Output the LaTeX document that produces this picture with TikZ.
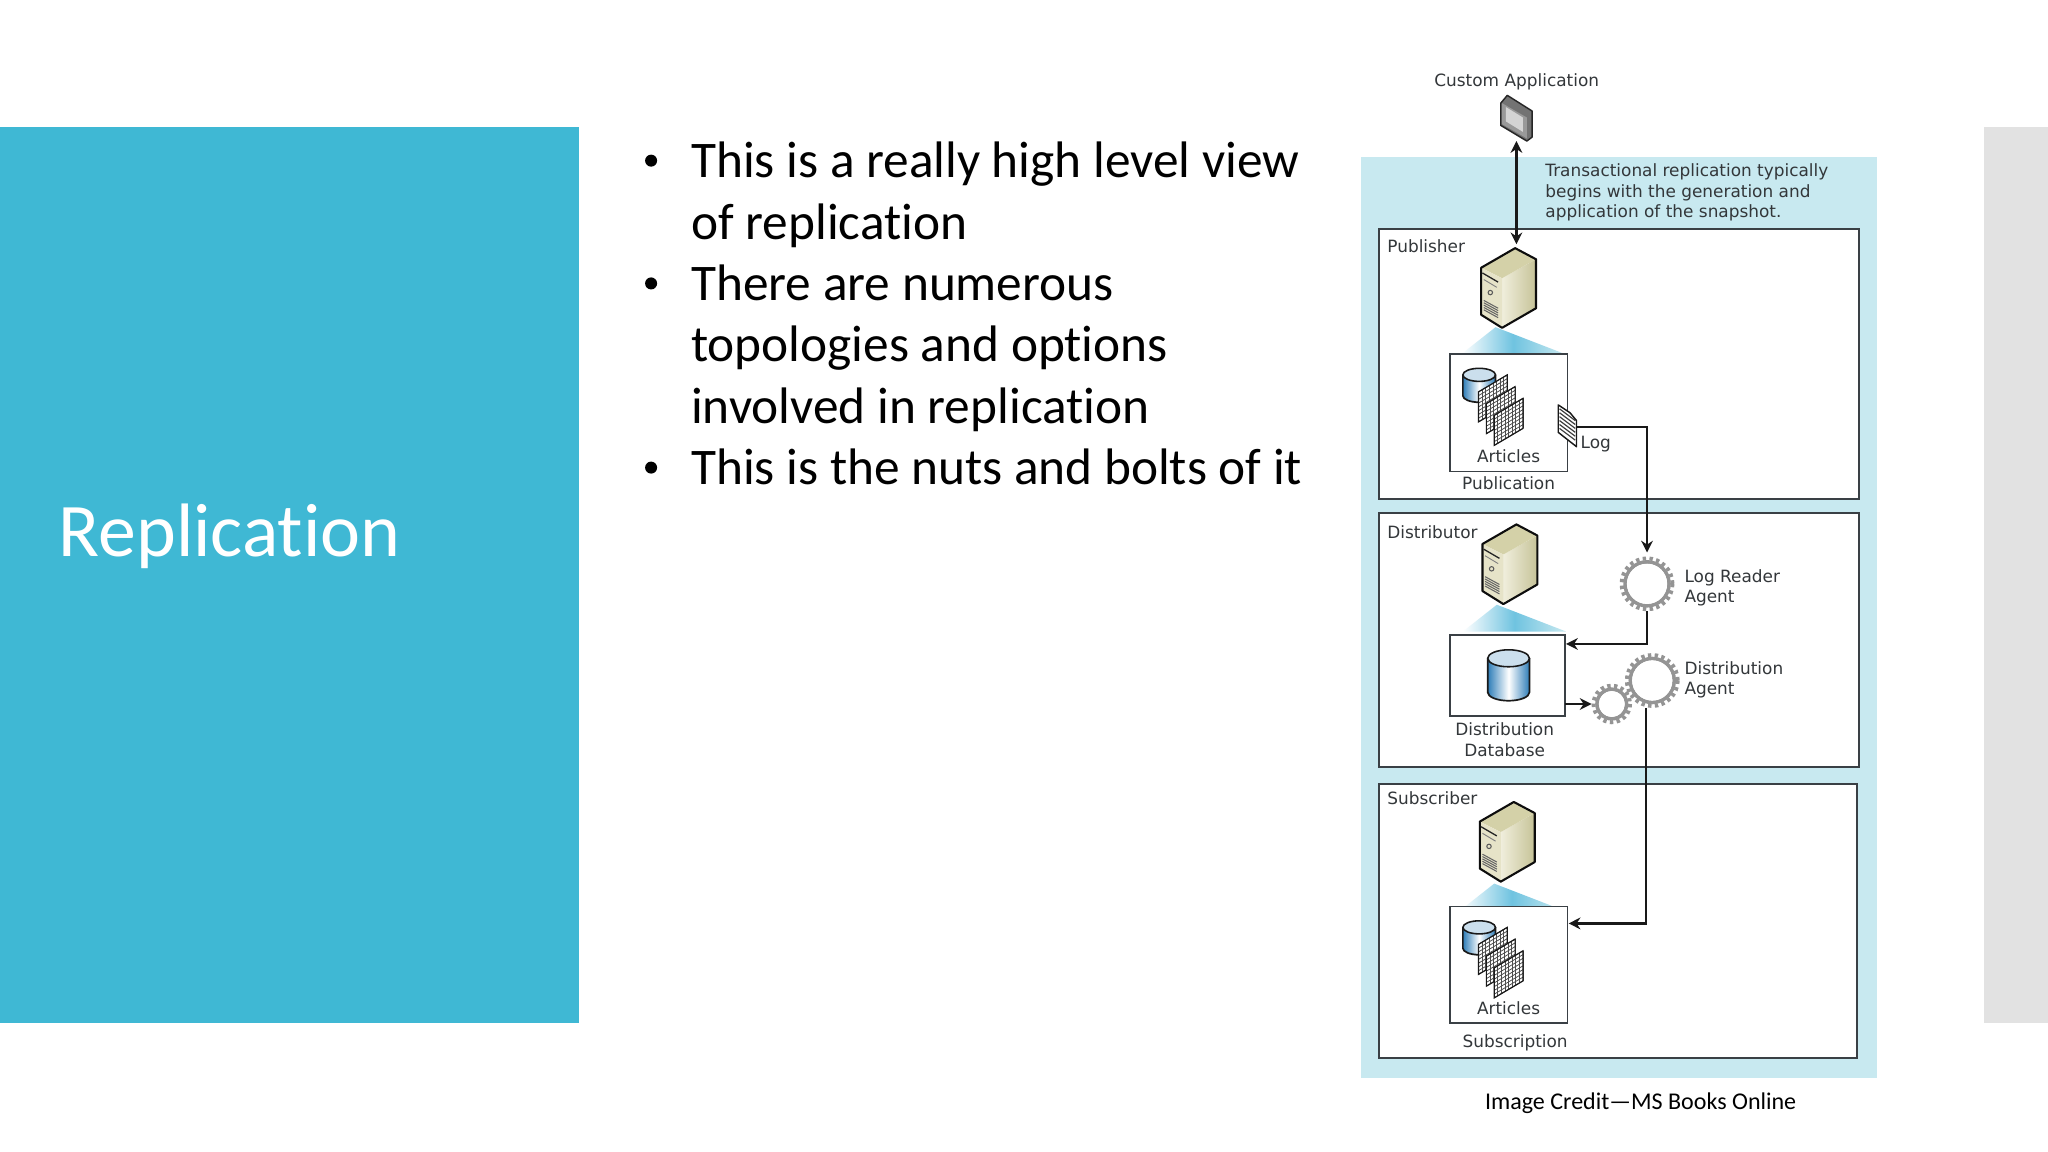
\documentclass[tikz,border=0pt]{standalone}
\usepackage{fontspec}
\setmainfont{Carlito}[Ligatures=NoCommon]
\newfontfamily\diafont{DejaVu Sans}
\usetikzlibrary{arrows.meta,calc}
\definecolor{panel}{HTML}{3FB8D4}
\definecolor{sidegrey}{HTML}{E2E2E2}
\definecolor{paleblue}{HTML}{C8E9F0}
\definecolor{frameline}{HTML}{3A4045}
\definecolor{txt}{HTML}{33373A}
\definecolor{cylblue}{HTML}{2E7DB8}
\definecolor{glowblue}{HTML}{6FC3E0}
\definecolor{srvlight}{HTML}{F0EEDC}
\definecolor{srvdark}{HTML}{C6C398}
\definecolor{srvtop}{HTML}{D4D1A8}
\definecolor{srvfront}{HTML}{E6E3C8}
\tikzset{
  frame/.style={draw=frameline,line width=1.5pt,fill=white,inner sep=0pt,outer sep=0pt},
  innerbox/.style={draw=frameline,line width=1.3pt,fill=white,inner sep=0pt,outer sep=0pt},
  dia/.style={font=\diafont\fontsize{12.95}{15.6}\selectfont,text=txt,inner sep=0pt,align=left},
  dianum/.style={font=\diafont\fontsize{12.95}{15.6}\selectfont,text=txt,inner sep=0pt,align=center},
  bul/.style={font=\fontsize{39.3}{47}\selectfont,text=black,inner sep=0pt,anchor=base west},
  conn/.style={draw=black!90,line width=1.7pt,-{Stealth[length=9pt,width=9pt]}},
  ghost/.style={inner sep=0pt,outer sep=0pt},
}
% server icon: #1 = x of top vertex, #2 = y of top vertex
\newcommand{\srvicon}[2]{%
  \begin{scope}[shift={(#1,#2)}]
    \shade[left color=srvlight,right color=srvdark] (-10,23) -- (16,8.5) -- (16,46) -- (-10,61) -- cycle;
    \fill[srvtop] (0,0) -- (16,8.5) -- (-10,23) -- (-26,15) -- cycle;
    \fill[srvfront] (-26,15) -- (-10,23) -- (-10,61) -- (-26,51) -- cycle;
    \draw[black!85,line width=1pt] (-25,19) -- (-13,26);
    \draw[black!50,line width=.7pt] (-24,24) -- (-14,30);
    \draw[black!65,line width=.8pt] (-19,34) circle (1.7);
    \foreach \k in {0,...,4}{\draw[black!60,line width=.8pt] (-24,{40+1.8*\k}) -- (-13,{46+1.8*\k});}
    \draw[black!95,line width=1.6pt,line join=round] (0,0) -- (16,8.5) -- (16,46) -- (-10,61) -- (-26,51) -- (-26,15) -- cycle;
  \end{scope}}
% glow below a server
\newcommand{\srvglow}[2]{%
  \shade[left color=white,right color=paleblue,middle color=glowblue] (#1,#2) -- ({#1+53},{#2+20.5}) -- ({#1-26},{#2+20.5}) -- cycle;}
% gear: centre, outer radius
\newcommand{\geardraw}[3]{%
  \draw[black!42,line width=3pt,dash pattern=on 2.6pt off 2.6pt] (#1,#2) circle ({#3-1.5});
  \draw[black!42,line width=2.8pt] (#1,#2) circle ({#3-4.2});
  \fill[white] (#1,#2) circle ({#3-5.6});}
% cylinder: x left, x right, y top, y bottom, ell ry
\newcommand{\cyl}[5]{%
  \shade[left color=cylblue,right color=cylblue,middle color=white] (#1,#3) -- (#1,#4) arc[x radius={(#2-#1)/2},y radius=#5,start angle=180,end angle=0] -- (#2,#3) -- cycle;
  \fill[cylblue!25!white] ({(#1+#2)/2},#3) ellipse[x radius={(#2-#1)/2},y radius=#5];
  \draw[black!90,line width=1.3pt] (#1,#3) -- (#1,#4) arc[x radius={(#2-#1)/2},y radius=#5,start angle=180,end angle=0] -- (#2,#3);
  \draw[black!90,line width=1.2pt] ({(#1+#2)/2},#3) ellipse[x radius={(#2-#1)/2},y radius=#5];}
% one grid sheet: top-left corner
\newcommand{\sheet}[2]{%
  \begin{scope}[shift={(#1,#2)}]
    \fill[white] (0,0) -- (22,-13) -- (22,10) -- (0,23) -- cycle;
    \foreach \k in {0,...,8}{
      \draw[black!70,line width=.6pt] ({\k*2.75},{-\k*1.625}) -- ({\k*2.75},{23-\k*1.625});
    }
    \foreach \k in {0,...,8}{
      \draw[black!70,line width=.6pt] (0,{\k*2.875}) -- (22,{-13+\k*2.875});
    }
    \draw[black!90,line width=.9pt] (0,0) -- (22,-13) -- (22,10) -- (0,23) -- cycle;
  \end{scope}}
\newcommand{\articlesicon}[2]{%
  \begin{scope}[shift={(#1,#2)}]
    \cyl{0}{25}{11}{27}{5}
    \sheet{12}{24}
    \sheet{18}{33}
    \sheet{24}{42}
  \end{scope}}
\begin{document}
\begin{tikzpicture}[x=1pt,y=-1pt]
\useasboundingbox (0,0) rectangle (1568,882);
\fill[white] (0,0) rectangle (1568,882);
\fill[panel] (0,97) rectangle (443,783);
\fill[sidegrey] (1519,97) rectangle (1568,783);
\node[ghost,anchor=base west,text=white,font=\fontsize{58}{70}\selectfont] (title) at (45,426) {Replication};

\foreach \yy in {123,217,358}{\fill[black] (498.5,\yy) circle (4.6);}
\node[bul] (l1) at (529,136) {This is a really high level view};
\node[bul] (l2) at (529,183) {of replication};
\node[bul] (l3) at (529,230) {There are numerous};
\node[bul] (l4) at (529,277) {topologies and options};
\node[bul] (l5) at (529,324) {involved in replication};
\node[bul] (l6) at (529,371) {This is the nuts and bolts of it};

\fill[paleblue] (1042,120) rectangle (1437,825);
\node[frame,anchor=north west,minimum width=367pt,minimum height=207pt] (pubframe) at (1056,175) {};
\node[frame,anchor=north west,minimum width=367pt,minimum height=194pt] (disframe) at (1056,393) {};
\node[frame,anchor=north west,minimum width=366pt,minimum height=210pt] (subframe) at (1056,600) {};

\node[dia,anchor=base west] (custom) at (1098,66) {Custom Application};
\node[dia,anchor=base west,align=left] (note) at (1183,166.7) {Transactional replication typically\\begins with the generation and\\application of the snapshot.};
\node[dia,anchor=base west] (publabel) at (1062,193) {Publisher};
\node[dia,anchor=base west] (dislabel) at (1062,412.5) {Distributor};
\node[dia,anchor=base west] (sublabel) at (1062,616) {Subscriber};

% custom application icon
\fill[black!55] (1149,79) -- (1154,73) -- (1173,85) -- (1173,105) -- (1169,108) -- (1149,96) -- cycle;
\fill[black!40] (1150,79) -- (1169,90) -- (1169,106) -- (1150,95) -- cycle;
\fill[black!17] (1153,82) -- (1166,90) -- (1166,101) -- (1153,93) -- cycle;
\draw[black!85,line width=1.1pt,line join=round] (1149,79) -- (1154,73) -- (1173,85) -- (1173,105) -- (1169,108) -- (1149,96) -- cycle;
\node[ghost,minimum width=25pt,minimum height=34pt] (app) at (1161,91) {};

% publisher
\srvglow{1145}{250.5}
\srvicon{1160}{190}
\node[ghost,minimum width=42pt,minimum height=61pt] (pubsrv) at (1155,220.5) {};
\node[innerbox,anchor=north west,minimum width=90pt,minimum height=90pt] (pubbox) at (1110,271) {};
\articlesicon{1120}{276}
\node[dia,anchor=base] (art1) at (1155,354) {Articles};
\node[dia,anchor=base] (publ) at (1155,375) {Publication};
% log icon
\fill[white] (1193,310) -- (1202,316) -- (1207,322) -- (1207,342) -- (1193,331) -- cycle;
\foreach \k in {0,...,5}{\draw[black!75,line width=.9pt] (1194,{313+3*\k}) -- (1206,{322+3*\k});}
\draw[black!90,line width=1.1pt,line join=round] (1193,310) -- (1202,316) -- (1207,322) -- (1207,342) -- (1193,331) -- cycle;
\node[ghost,minimum width=14pt,minimum height=32pt] (logdoc) at (1200,327) {};
\node[dia,anchor=base west] (loglabel) at (1210,343.5) {Log};

% distributor
\srvglow{1146}{463}
\srvicon{1161}{401.5}
\node[ghost,minimum width=42pt,minimum height=62pt] (dissrv) at (1156,432) {};
\node[innerbox,anchor=north west,minimum width=88pt,minimum height=62pt] (ddb) at (1110,486) {};
\cyl{1139}{1171}{504}{530}{6.5}
\node[dianum,anchor=base] (ddbl) at (1152,579) {Distribution\\Database};
\geardraw{1261}{447}{21}
\node[ghost,circle,minimum size=42pt] (lrgear) at (1261,447) {};
\node[dia,anchor=base west] (lrlabel) at (1289.5,461.5) {Log Reader\\Agent};
\geardraw{1234}{539}{15.5}
\node[ghost,circle,minimum size=31pt] (smgear) at (1234,539) {};
\geardraw{1265}{521}{21}
\node[ghost,circle,minimum size=42pt] (dagear) at (1265,521) {};
\node[dia,anchor=base west] (dalabel) at (1289.5,532) {Distribution\\Agent};

% subscriber
\srvglow{1144}{676.5}
\srvicon{1159}{614}
\node[ghost,minimum width=42pt,minimum height=63pt] (subsrv) at (1154,645) {};
\node[innerbox,anchor=north west,minimum width=90pt,minimum height=89pt] (subbox) at (1110,694) {};
\articlesicon{1120}{699}
\node[dia,anchor=base] (art2) at (1155,777) {Articles};
\node[dia,anchor=base] (subl) at (1160,802) {Subscription};

% connectors
\coordinate (pubin) at (1161,187);
\coordinate (ddbin) at (1199,493);
\coordinate (daout) at (1260,542);
\coordinate (subin) at (1201,707);
\draw[conn,{Stealth[length=9pt,width=9pt]}-{Stealth[length=9pt,width=9pt]}] (app.south) -- (pubin);
\draw[conn] (logdoc.east) -- (lrgear.north |- logdoc.east) -- ($(lrgear.north)+(0,-3)$);
\draw[conn] (lrgear.south) |- (ddbin);
\draw[conn] (ddb.east |- smgear.west) -- (smgear.west);
\draw[conn] (daout) |- (subin);

\node[ghost,anchor=base west,text=black,font=\fontsize{18.4}{22}\selectfont] (credit) at (1137,849.5) {Image Credit—MS Books Online};
\end{tikzpicture}
\end{document}
